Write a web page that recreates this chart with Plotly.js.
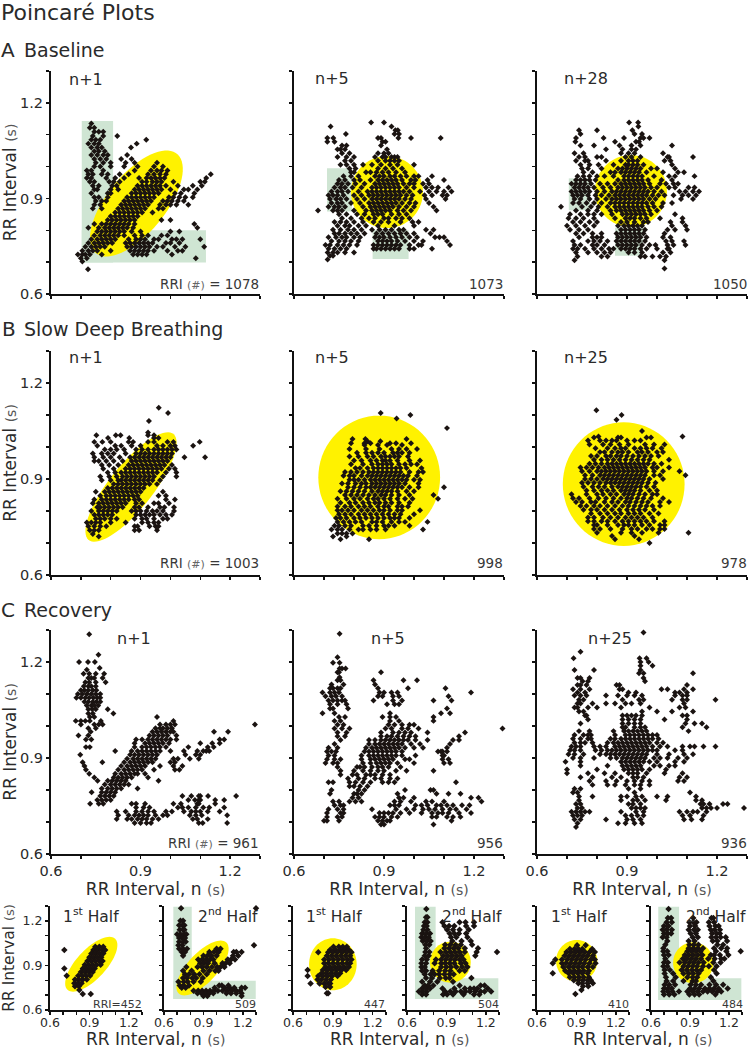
<!DOCTYPE html>
<html><head><meta charset="utf-8"><script src="https://cdn.plot.ly/plotly-3.0.1.min.js"></script>
<style>html,body{margin:0;padding:0;background:#fff}#c{width:748px;height:1050px}</style></head><body><div id="c"></div>
<script>
// Values, in ms. Each row: [RR(n+k), RR(n), RR(n), ...]
const a1=[[1135,735],[1122,730,745],[1109,745,760,775],[1096,740,775,822],[1084,735,750,765,919],[1072,725,745,760,887],[1060,735,755,770,868],[1048,745,760,780],[1036,735,755,775,790,855],[1024,745,765,785,835,870],[1012,750,775,800,850,880,955],[1000,745,765,800,845,890,945,975],[988,720,735,775,880,935,955,970,990],[976,725,740,770,790,830,860,925,945,965,985,1135],[964,720,735,785,815,845,895,920,935,950,965,980,1120],[952,730,745,795,810,830,905,920,940,955,970,1010,1100,1115],[940,740,760,805,820,890,905,920,935,950,965,985,1025,1075,1105],[928,745,755,800,825,880,895,910,925,940,955,970,1000,1045,1060,1090],[916,735,790,800,870,885,900,915,930,945,960,1015,1035,1080],[904,745,760,790,855,870,885,900,915,930,945,995,1010,1030,1050,1075],[892,750,770,785,845,860,875,890,905,920,935,975,990,1005,1025,1045],[880,745,765,835,850,865,880,895,910,925,965,985,1000,1020,1060],[868,740,770,825,840,855,870,885,900,915,960,975],[856,815,830,845,860,875,890,905,940],[844,800,815,830,845,860,875,890],[832,790,805,820,835,850,865,880,970,1000],[820,745,770,785,800,815,830,845,860,880,1080],[808,725,760,780,795,810,825,840,855,875,1090],[796,755,770,785,800,815,830,845,870,900,1000,1030],[784,745,765,780,795,810,825,845,880,905,925,970,990],[772,735,755,770,785,800,815,860,885,900,915,945,960,1005,1020,1040,1100],[760,725,745,760,775,790,805,850,865,880,895,910,925,940,985,1000,1030],[748,715,735,750,765,780,855,870,885,900,915,930,955,975,1015,1050,1113],[736,705,725,740,755,800,865,880,895,910,925,945,990,1025,1040],[724,690,705,715,730,770,875,890,905,920,1005],[712,700,720,1085],[702,705],[678,724]];
const a2=[[1138,857,900],[1126,722,925],[1114,938,946],[1102,773,935,950],[1090,731,711,880,890,948,990,1089],[1078,711,735,895,905],[1066,760,775,890],[1054,745,755,770,910],[1042,760,785,880,900,915],[1030,745,775,800,870,895,905,925,935,945],[1018,770,790,880,905,920,935,950],[1006,755,775,800,830,860,890,920,945,1000],[994,785,805,880,905,930,960],[982,790,800,840,855,875,895,915,940,970],[970,765,790,815,870,885,900,920,935,955,975,1000,1015,1060],[958,750,770,800,820,855,880,895,910,925,940,960,990,1005,1045,1100],[946,745,760,780,805,835,870,885,900,915,930,945,965,985,1000,1030,1050],[934,735,755,770,795,825,860,875,890,905,920,935,950,975,1000,1040,1060,1080,1115],[922,725,745,760,780,815,845,860,875,890,905,920,935,950,965,985,1020,1050,1075,1100,1125],[910,715,730,745,765,800,825,850,865,880,895,910,925,940,955,975,995,1035,1060,1095,1110],[898,720,740,755,775,810,835,860,875,890,905,920,935,950,970,990,1040,1105],[886,725,745,760,790,820,850,865,880,895,910,925,940,960,985,1005,1050],[874,715,735,750,770,830,855,870,885,900,915,930,950,975,1000,1065],[862,680,730,745,760,800,840,860,875,890,905,920,945,965,990,1075],[850,750,775,810,835,865,880,895,925,950,975],[838,760,790,825,850,870,900,915,940,960,985],[826,735,755,775,800,830,865,890,915,955,995,1015],[814,745,770,785,815,840,880,935,1000],[802,730,755,780,800,825,860,885,905,925,950,965,1040,1065],[790,735,750,770,790,810,835,875,895,915,935,955,975,1000,1055],[778,715,740,760,775,800,820,870,885,900,920,940,960,985,1010,1070,1085,1100],[766,725,750,770,790,815,880,895,910,925,945,970,1000,1030,1110],[754,705,720,745,765,785,810,865,880,895,910,925,940,955,985,1015,1025,1120],[742,715,735,755,775,865,875,890,905,920,935,950,985,1000,1060],[730,712,730,745,770,800],[720,720,730],[708,712]];
const a3=[[1138,907,937],[1126,938],[1114,740,800,918],[1102,745,925,950],[1090,730,822,890,945,955,975],[1078,728,860,930,940],[1066,745,790,875,915,945,1050],[1054,830,885,915,930],[1042,725,755,880,905,925,1020],[1030,740,760,800,815,895,915,945,1035,1040,1120],[1018,730,760,770,830,880,905,920,935,1025,1045],[1006,745,775,805,855,895,905,920,935,955,1050],[994,750,770,815,870,885,900,915,930,945,980,1000,1060],[982,755,785,845,860,880,895,910,925,940,965,1020,1070,1090],[970,735,755,775,800,825,855,890,905,920,935,950,990,1040,1060,1125],[958,730,745,760,775,795,870,890,905,920,935,950,970,1015,1050],[946,715,730,745,760,780,810,835,860,880,895,910,925,940,955,975,1010,1030,1055,1070],[934,725,740,755,770,790,820,845,870,885,900,915,930,945,960,980,1000,1040,1060,1105,1125],[922,715,730,745,760,775,800,825,850,865,880,895,910,925,940,955,970,990,1015,1075,1095,1120,1140],[910,720,735,750,770,795,815,840,860,875,890,905,920,935,950,965,985,1005,1025,1055,1085,1105,1130],[898,725,745,775,800,830,850,865,880,895,910,925,940,955,975,995,1080,1120],[886,720,740,765,790,815,845,860,875,890,905,920,935,950,965,985,1020,1050],[874,680,750,780,805,835,860,875,890,905,920,935,950,970,990,1015],[862,730,770,800,845,865,880,895,910,925,940,955,975,1000],[850,710,745,770,790,815,850,885,900,915,930,945,960,980,1060],[838,705,730,755,790,860,895,910,925,945,965,1010,1085],[826,720,745,775,800,880,900,925,955,970,1045,1085],[814,700,730,760,790,870,890,905,920,935,950,1050,1095],[802,710,740,770,880,895,910,925,940,960,1035,1060,1100],[790,730,755,785,815,865,880,895,910,925,940,955,1025],[778,740,785,800,815,870,885,900,915,930,945,965,1020,1045],[766,720,770,790,810,835,865,880,895,910,925,940,960,1030,1050,1090],[754,725,745,785,800,825,870,885,900,915,930,950,975,995,1035,1055,1095],[742,720,735,760,790,815,840,855,880,895,910,925,945,965,1000,1035,1040],[730,730,770,800,825,845,905,925,950,1020,1045],[718,735,815,835,945,960,985,1010,1030],[706,725,1025],[680,1025]];
const b1=[[1123,961],[1106,992],[1081,928],[1045,925],[1037,752,817,833,925,945],[1028,791,862,945,960],[1016,745,772,800,860,875,925,945,990,1010,1098],[1004,755,815,835,870,900,955,975,1000,1015,1076],[992,780,800,820,845,885,905,925,945,960,975,990,1005,1020],[980,740,770,790,810,850,885,900,915,930,945,960,975,990,1005],[968,745,775,800,830,865,880,895,910,925,940,955,970,985,1000,1047,1116],[956,745,760,785,810,840,870,885,900,915,930,945,960,975,990],[944,770,795,825,860,875,890,905,920,935,950,965,980,1005],[932,775,810,850,865,880,895,910,925,940,955,970,995,1015],[920,790,815,835,850,865,880,895,910,925,940,955,985,1020],[908,765,795,820,840,855,870,885,900,915,930,945,975,1020],[896,770,800,825,835,850,865,880,895,910,925,940,965],[884,810,825,840,855,870,885,900,915,930,955],[872,790,805,820,835,850,865,880,895,910],[860,750,780,795,810,825,840,855,870,885,900,975],[848,765,785,800,815,830,845,860,875,890,960,985],[836,745,770,785,800,815,830,845,860,880,895,985,1015],[824,740,760,775,790,805,820,835,850,885,905,945,960,995],[812,755,765,780,795,810,825,840,880,895,925,965,980,1012],[800,735,760,775,790,805,820,870,885,900,920,940,955,975,1012],[788,745,760,775,790,805,885,900,915,930,945,965,985,1005],[776,750,765,780,800,820,880,905,920,945,975,990],[764,720,735,750,765,800,850,905,925,945,960],[752,725,745,765,785,880,890,930,950,960],[740,730,745,760,880,895,955],[728,740],[720,760]];
const b2=[[1106,889],[1100,988],[1089,942],[1059,1110],[1025,795,838,975],[1018,845,888],[1012,790,835,855,920,940,990],[1006,835,880,910,960],[994,785,840,885,925,950,975,1010],[982,810,840,860,880,900,930,945,960,985],[970,785,815,845,865,890,905,920,935,950,980],[958,800,825,855,875,895,905,920,945,985,1020],[946,790,830,860,880,895,910,925,950,970,990,1010],[934,805,820,845,865,880,895,910,925,940,955,975,1025],[922,770,790,810,830,850,865,880,895,910,925,940,955,985,1015,1030],[910,765,785,800,825,845,860,875,890,905,920,935,950,965,980,1010],[898,785,800,815,835,855,870,885,900,915,930,945,960,975,1000,1020],[886,760,780,805,825,840,860,875,890,905,920,935,950,970,1015],[874,780,800,820,840,855,870,885,900,915,930,945,960,985,1015,1100],[862,755,775,795,815,835,860,880,895,910,925,945,975,1000],[850,770,790,810,830,850,870,890,905,925,950,985,1065],[838,745,775,800,820,845,865,880,900,920,945,970,995,1080],[826,755,785,805,830,850,870,885,905,925,950,985],[814,745,770,790,815,835,855,880,900,915,945,960,980],[802,745,760,780,800,825,845,865,885,900,920,945,960,1020],[790,750,770,790,815,835,855,875,895,915,935,955,1000],[778,740,755,775,800,820,840,860,880,900,920,935,950,985],[766,745,765,785,805,825,860,875,895,925,950,970,1045],[754,735,750,770,790,830,850,875,900,915,935,985],[742,725,745,760,785,815,830,855,875,905,1030],[730,745,760,775,795],[720,730,775],[712,755,850]];
const b3=[[1115,798],[1100,882],[1085,865],[1050,950],[1033,1085,805],[1030,790,870,880,965,980],[1020,770,810,830,850,865,900,925,945],[1008,775,820,845,875,905,960,990,1025],[996,795,835,860,880,895,925,945,965,985,1015],[984,810,825,850,870,885,905,935,950,970,1000,1020],[972,780,800,830,845,865,880,900,920,940,960,980,1005],[960,790,815,835,855,875,895,915,935,955,975,1040],[948,775,795,815,835,850,865,880,895,910,925,940,955,970,990,1015],[936,745,765,785,805,825,840,855,870,885,900,915,930,945,960,985,1000,1040],[924,750,775,800,815,830,845,860,875,890,905,920,935,950,965,990,1075,1020],[912,760,785,810,825,840,855,870,885,900,915,930,945,960,990,1010,1095],[900,760,780,800,820,835,850,865,880,895,910,925,940,955,975,1020],[888,750,770,790,810,830,845,860,875,890,905,920,935,950,970,995],[876,755,785,805,825,850,870,885,900,915,930,945,965,990],[864,765,790,815,835,855,880,895,910,925,945,975,1000],[852,715,765,800,820,845,865,890,905,920,940,960,985,1000],[840,720,740,775,805,830,855,880,900,915,935,955,980,1020],[828,730,750,780,795,825,850,870,895,910,930,950,970,1010,1040],[816,745,765,790,810,835,860,885,905,925,945,965,985,1010],[804,755,780,800,825,850,875,900,920,940,960,990],[792,780,810,835,860,880,905,925,945,975,1005],[780,770,790,820,845,870,895,915,935,955,985],[768,770,790,815,835,860,885,905,925,945,965,990,1025],[756,790,800,835,870,890,905,925,950,975,1010,1025],[744,790,810,845,885,915,935,965,985,1010,1025],[732,800,880,915,950,1005,1105],[722,850,925],[712,860,940],[700,975]];
const c1=[[1287,728],[1223,759],[1200,694,724,747],[1181,763],[1176,720],[1163,709,728,750,778],[1150,725,735,745,773],[1137,715,728,750,783],[1124,710,725,735,750],[1112,700,712,725,740,752],[1100,690,705,720,735,750,765],[1088,685,700,715,728,742,755,765],[1076,712,725,740,752,765],[1064,720,735,745,758],[1052,725,738,750,790],[1039,725,740,809],[1028,730,745,955],[1016,683,700,715,730,767,1010],[1005,700,745,760,773,965,985,1000,1015,1283],[993,725,750,950,965,975,990,1005],[982,733,940,955,970,985,1000,1010,1146,1193],[970,692,725,930,945,960,975,990,1020],[958,717,735,885,905,925,940,955,970,985,1000,1020,1165,1180],[946,880,915,930,945,960,975,995,1100,1140,1165],[934,717,730,880,905,920,935,950,965,985,1060,1125,1145],[922,815,870,890,905,920,935,950,965,1000,1045,1090,1110,1120,1130],[910,698,865,880,895,910,925,940,955,1050,1085,1100],[898,855,875,890,905,920,935,950,1010,1025,1065,1095],[887,772,706,845,865,880,895,910,925,940,1000,1015],[875,712,835,855,870,885,900,915,965,1010,1040],[863,717,825,845,860,875,890,905,945,1015,1030],[851,728,815,835,850,865,880,890,915,],[839,745,810,825,840,855,870,925],[829,756,790,805,820,835,850,960],[817,780,800,815,830,845,860],[805,770,790,805,820,835,890],[793,736,770,785,800,815],[781,765,780,795,810,1040,1070,1100,1126,1095,1220],[769,755,770,785,800,1060,1082,1100,1095,1150,1180],[757,731,760,775,870,885,915,1010,1035,1090,1095,1150],[745,885,910,930,1025,1040,1060,1085,1110,1130,1180],[733,820,850,885,905,925,945,985,1005,1045,1070,1085,1100,1125,1165],[721,825,860,880,895,910,925,950,975,990,1065,1085,1105,1190],[709,820,855,870,890,905,920,940,960,1075,1090,1125],[697,880,900,920,935,1095,1108,1190]];
const c2=[[1288,752],[1215,745],[1198,730,752],[1180,752,760,772],[1168,745,750,890],[1155,690?0:752].filter?[]:[],[1152,752],[1143,755,745,865,965,1010],[1130,725,765,870],[1118,720,730,745,755,880,980,1105],[1105,695,720,735,750,885,900,925,945,1190],[1093,705,725,740,760,880,895,930,950,1115],[1080,715,730,745,760,770,865,930,960,1125,1065],[1068,720,745,775,935,950,910],[1055,720,730,780,1110],[1040,695,735,920,1090,1120],[1028,750,770,895,920,940,1065],[1016,735,755,920,950,1065],[1004,745,765,915,935,960,985,1000],[992,735,760,785,905,925,960,980,1015,1295],[980,745,775,890,930,950,970,990,1045,1170],[968,745,770,890,910,925,945,965,985,1005,1150],[956,755,850,870,890,905,920,935,950,965,980,1005,1045,1130,1150],[944,735,850,870,885,900,915,930,945,960,990,1020,1120],[932,715,745,840,860,875,890,905,920,935,950,970,1000,1030,1110],[920,710,725,740,835,850,865,880,895,910,925,940,960,1080,1090,1095,1110],[908,715,735,825,850,865,880,895,910,925,940,960,1005,1095,1100],[896,710,735,755,825,855,870,885,900,915,930,970,985,1095,1115],[884,705,730,745,830,855,875,890,905,920,945,1000,1120,1100],[872,745,810,820,835,860,880,895,915,955],[860,755,800,830,855,880,900,940,975,1065],[848,755,795,810,840,855,870,895,920],[836,780,815,835,870,890,920,945],[824,715,730,785,805,830,855,895,915,935,1140],[812,785,800,820,845],[800,725,815,835,970,1055,1065],[788,720,800,810,825,945,1075,1115,1155],[776,795,815,950,965,1000,1215,1190],[764,730,750,785,805,825,935,955,990,1040,1060,1100,1225],[752,735,755,765,920,935,950,1005,1025,1045,1075,1090,1110,1130,1160,1185],[740,715,745,765,860,940,975,1000,1030,1050,1070,1095,1120,1140,1175],[728,710,755,765,885,900,915,930,955,985,1025,1060,1080,1095,1115,1150,1190],[716,710,745,760,870,885,900,925,945,1060,1075,1110,1130,1155],[704,700,710,750,880,895,910,920,1125],[692,890,900,1065],[684,]];
const c3=[[1292,955],[1232,745],[1212,722,942,965],[1200,945,972],[1188,945,985],[1175,725,790,945],[1165,940,955,1120],[1150,735,745,775,955],[1140,752,770,960],[1128,735,745,765,865,875,1100],[1115,720,745,775,875,885,1015,1035,1090,1120],[1105,735,760,905,930,1100,1060,1075],[1095,725,745,765,830,870,900,925,950,1060,1085,1100],[1082,740,755,885,940,955,1050,1085,1100,1195],[1070,785,735,745,830,860,895,915,945,1090],[1058,725,735,770,800,880,975,1075,1095],[1045,740,755,950,1000,1050,1120],[1033,760,765,885,900,915,930,950,1085,1100],[1020,770,885,905,925,945,1025,1100],[1008,745,885,905,925,945,1095,1125,1150],[996,885,895,925,945,960,1085,1165],[984,740,775,855,890,905,920,935,950,965,1105],[972,725,755,770,780,860,895,910,925,940,955,970,985,1000],[960,720,745,770,780,845,860,880,895,910,925,940,955,970,985,1005],[948,725,745,760,785,835,855,870,885,900,915,930,945,960,975,1000,1020],[936,715,730,745,790,810,830,860,875,890,905,920,935,950,965,985,1010,1035,1085,1110,1125,1155,1195],[924,710,725,745,795,815,835,850,865,880,895,910,925,940,955,970,985,1000,1060,1085],[912,705,725,755,810,830,845,860,875,890,905,920,935,950,965,1000,1040,1090,1120],[900,720,745,790,845,865,885,900,915,930,945,960,990,1010,1035,1070,1100],[888,695,745,880,895,910,925,940,955,975,1000,1060,1090],[876,745,835,885,900,915,930,945,990,1010,1040,1060],[864,700,800,890,905,920,935,950,975,1030],[852,700,770,825,860,905,920,935,965,1025,1085],[840,745,785,850,880,920,935,955,1075,1100],[828,775,830,865,900,925,950,975,1070,1090],[816,785,835,860,895,925,945,975],[804,725,745,905,945],[792,720,735,925,1110],[780,740,785,880,900,930,950,1035,1130,1000],[768,740,880,920,935,960,1030,1130,1150],[756,730,745,905,920,945,1145,1155,1175,1220,1235],[744,735,750,915,930,945,960,1150,1165,1180,1200,1290],[732,715,730,745,760,775,880,930,955,1075,1100,1120,1135,1165],[720,720,735,750,895,915,935,955,1085,1110,1155],[708,725,745,830,900,920,945,1090,1115,1150],[696,735,870,895,925,950],[684,730]];
const s1=[[1026,945,975,1005],[1004,709,930,960,995,1020],[980,915,945,975,1005],[955,900,930,960,990],[930,885,915,945,975,1000],[905,865,895,925,955,985],[880,709,850,880,910,940],[855,835,865,895,925],[830,727,815,845,875,905],[805,790,820,850,880],[780,785,810,840],[760,790,820],[735,823],[708,849,910]];
const s2=[[1285,730,1300],[1200,725,745],[1170,715,740,755],[1140,720,745,755],[1110,700,725,750,770],[1085,715,740,760],[1060,715,745,765],[1035,710,740,1285],[1012,715,745,775,1000,1030],[990,735,760,945,980,1015,1130,1150,1190],[965,745,900,930,960,1000,1125,1165],[940,860,890,920,950,975,1085,1110,1140],[915,875,905,935,985,1045,1070,1100],[890,770,855,890,925,965,1005,1030,1060],[865,745,810,900,945,990,1015],[840,760,790,830,870,925],[815,745,775,815,845,895],[790,710,750,780,825,880],[765,720,750,790,1020,1040,1090],[750,735,765,985,1060,1100,1135,1190,1217],[730,825,860,890,920,950,980,1010,1045,1080,1115,1150,1180],[712,855,885,915,945,975,1075,1110,1150,1190],[695,900,930,1190]];
const s3=[[1025,905,945,975,1005],[1005,880,920,955,990,1020],[988,790,865,900,935,970,1005,1040],[965,855,890,925,960,995,1030],[940,835,870,905,940,975,1010,1040],[915,835,865,900,935,970,1005,1030],[890,845,880,915,950,985,1020],[869,710,825,860,895,930,965,1000],[848,815,850,885,920,955],[829,710,790,825,860,895,935],[805,785,815,850,885],[779,732,800,835,865,880],[755,845,880],[712,855,865]];
const s4=[[1280,747],[1225,745,755],[1190,735,755,870,1000,1045,1110],[1165,730,750,885,920,960,1050,1110],[1140,725,755,905,950,1000,1070],[1115,715,745,775,925,960,995,1050],[1090,710,735,765,935,975,1060],[1065,720,750,780,945,1015,1085],[1040,740,770,890,930,970,1010,1095],[1015,745,885,920,955,990,1040,1140],[990,740,770,855,895,930,965,1000,1040,1130,1285],[965,735,765,875,910,945,980,1015,1120],[940,715,750,820,860,895,930,965,1000,1030],[915,710,745,810,860,890,925,960,1010,1045],[890,710,735,860,900,935,975,1020,1060],[865,715,745,795,845,890,930,1000,1040],[840,735,780,810,845,885,925,955],[815,745,790,850,895,925,1090],[790,715,775,830,950],[765,735,760,800,1000,1160,1190],[745,715,745,775,870,960,1040,1080,1110,1135,1215],[725,690,720,750,890,930,970,1010,1045,1080,1120,1160,1190,1240],[705,715,745,875,905,950,1030,1110,1150]];
const s5=[[1035,905,970],[1010,850,885,915,945,1020],[990,825,860,895,930,965,1000,1040],[965,810,845,880,915,950,985,1025],[940,740,790,830,865,900,935,970,1010,1040],[915,720,790,820,855,890,925,960,1000,1045],[890,800,840,875,910,945,985,1025],[865,815,850,885,920,955,995],[847,720,840,875,910,945,985],[820,850,885,920,955,995],[800,880,915,950,985,1010],[780,915,945,985,1025],[760,950,990],[735,938],[708,892]];
const s6=[[1280,735],[1220,730,755,925,1065,1080],[1190,720,760,895,925,950,1045,1085],[1165,700,735,900,940,1050,1095,1120],[1140,690,720,760,890,930,960,1060,1090,1130],[1115,700,730,755,905,945,1070,1105,1130],[1090,690,720,920,960,1065,1100,1135,1175],[1065,725,890,935,1075,1110,1185],[1040,710,895,930,965,1110,1155],[1015,695,890,925,960,1000,1085,1140,1185],[995,695,725,880,910,945,980,1100,1180,1290],[970,700,735,860,890,925,960,995,1060,1085,1130,1195],[945,710,845,875,910,945,985,1040,1090,1140,1165],[920,700,730,820,860,895,930,965,1005,1080,1135],[895,695,725,850,885,920,955,1000,1045,1105],[870,705,745,835,875,915,950,985,1085],[845,705,770,850,890,925,965,1105],[820,715,790,880,920,955,1060],[795,720,770,850,920,945,1080],[770,705,740,785,905,945,985,1050,1100,1155],[745,700,730,760,900,935,970,1015,1050,1085,1120,1190],[725,695,730,765,815,880,920,960,1000,1035,1070,1110,1140],[705,700,740,780,895,935,970,1095]];
const FONT='"DejaVu Sans"',INK='#2a2a2a';
const W=748,H=1050;
const BIG_ROWS=[[71,294],[351,575],[630,854]];
const BIG_COLS=[[51,260],[294,504],[537,747]];
const SMALL_COLS=[[50,142],[164,256],[293,386],[407,499],[537,629],[651,742]];
const SMALL_ROW=[906,1010];
const majorTicks=[.6,.9,1.2];
const majorText=['0.6','0.9','1.2'];
const minorTicks=[.7,.8,1,1.1,1.3];
const panels=[
 {d:a1,col:BIG_COLS[0],row:BIG_ROWS[0],ylab:1,e:[.886,.884,.207,.095,48],g:[[.703,.808,.699,1.143],[.703,1.119,.699,.80]]},
 {d:a2,col:BIG_COLS[1],row:BIG_ROWS[0],e:[.91,.92,.12,.113,0],g:[[.71,.793,.859,.995],[.862,.982,.71,.80]]},
 {d:a3,col:BIG_COLS[2],row:BIG_ROWS[0],e:[.913,.923,.12,.113,0],g:[[.706,.777,.863,.963],[.86,.953,.72,.808]]},
 {d:b1,col:BIG_COLS[0],row:BIG_ROWS[1],ylab:1,e:[.868,.875,.218,.071,49]},
 {d:b2,col:BIG_COLS[1],row:BIG_ROWS[1],e:[.884,.905,.203,.193,0]},
 {d:b3,col:BIG_COLS[2],row:BIG_ROWS[1],e:[.889,.884,.203,.193,0]},
 {d:c1,col:BIG_COLS[0],row:BIG_ROWS[2],ylab:1,xlab:1,xt:1},
 {d:c2,col:BIG_COLS[1],row:BIG_ROWS[2],xlab:1,xt:1},
 {d:c3,col:BIG_COLS[2],row:BIG_ROWS[2],xlab:1,xt:1},
 {d:s1,col:SMALL_COLS[0],row:SMALL_ROW,ylab:1,xlab:1,small:1,e:[.914,.908,.25,.105,42]},
 {d:s2,col:SMALL_COLS[1],row:SMALL_ROW,xlab:1,small:1,e:[.893,.883,.25,.105,42],g:[[.671,.811,.674,1.295],[.671,1.298,.674,.797]]},
 {d:s3,col:SMALL_COLS[2],row:SMALL_ROW,xlab:1,small:1,e:[.9,.908,.179,.175,0]},
 {d:s4,col:SMALL_COLS[3],row:SMALL_ROW,xlab:1,small:1,e:[.93,.922,.155,.138,0],g:[[.661,.818,.674,1.295],[.661,1.295,.674,.813]]},
 {d:s5,col:SMALL_COLS[4],row:SMALL_ROW,xlab:1,small:1,e:[.902,.931,.157,.14,0]},
 {d:s6,col:SMALL_COLS[5],row:SMALL_ROW,xlab:1,small:1,e:[.925,.918,.155,.138,0],g:[[.656,.816,.667,1.295],[.656,1.295,.667,.813]]}
];
function ell(e){const [cx,cy,a,b,deg]=e,r=deg*Math.PI/180;let p='';
 for(let i=0;i<72;i++){const t=i/72*2*Math.PI,u=a*Math.cos(t),v=b*Math.sin(t);
  p+=(i?'L':'M')+(cx+u*Math.cos(r)-v*Math.sin(r)).toFixed(4)+' '+(cy+u*Math.sin(r)+v*Math.cos(r)).toFixed(4);}
 return p+'Z';}
const layout={width:W,height:H,margin:{l:0,r:0,t:0,b:0},paper_bgcolor:'#fff',plot_bgcolor:'rgba(0,0,0,0)',showlegend:false,font:{family:FONT,color:INK},shapes:[],annotations:[]};
const traces=[];
panels.forEach((p,i)=>{const n=i+1,xa='xaxis'+n,ya='yaxis'+n,xr='x'+n,yr='y'+n;
 const xs=[],ys=[];
 p.d.forEach(row=>{for(let k=1;k<row.length;k++){xs.push(row[k]/1000);ys.push(row[0]/1000);}});
 traces.push({type:'scatter',mode:'markers',x:xs,y:ys,xaxis:xr,yaxis:yr,cliponaxis:false,hoverinfo:'skip',marker:{symbol:'diamond',size:p.small?5:4.6,color:'#1a1311',line:{width:0}}});
 const tf=p.small?12.5:14.5;
 const base={range:[.6,1.3],showgrid:false,zeroline:false,showline:true,linecolor:'#111',linewidth:2,ticks:'outside',ticklen:3,tickwidth:1.5,tickcolor:'#111',tickmode:'array',tickvals:majorTicks,ticktext:majorText,tickangle:0,tickfont:{family:FONT,size:tf,color:INK},fixedrange:true,
  minor:{tickmode:'array',tickvals:minorTicks,ticks:'outside',ticklen:3,tickwidth:1.5,tickcolor:'#111',showgrid:false}};
 layout[xa]=Object.assign({},base,{domain:[p.col[0]/W,p.col[1]/W],anchor:yr,showticklabels:!!p.xlab});
 if(p.small) layout[xa].ticklabelstandoff=-3;
 layout[ya]=Object.assign({},base,{domain:[1-p.row[1]/H,1-p.row[0]/H],anchor:xr,showticklabels:!!p.ylab});
 if(p.ylab) layout[ya].title={text:'RR Interval <span style="font-size:'+(p.small?13:14)+'px;fill:#555">(s)</span>',font:{family:FONT,size:p.small?15.5:17,color:INK},standoff:p.small?4:5};
 if(p.xt) layout[xa].title={text:'RR Interval, n <span style="font-size:14px;fill:#555">(s)</span>',font:{family:FONT,size:17,color:INK},standoff:3};
 (p.g||[]).forEach(g=>layout.shapes.push({type:'rect',xref:xr,yref:yr,x0:g[0],x1:g[1],y0:g[2],y1:g[3],fillcolor:'#cfe5d3',line:{width:0},layer:'below'}));
 if(p.e) layout.shapes.push({type:'path',xref:xr,yref:yr,path:ell(p.e),fillcolor:'#fff200',line:{width:0},layer:'below'});
});
function txt(t,px,py,size,anchor,color){layout.annotations.push({xref:'paper',yref:'paper',x:px/W,y:1-py/H,text:t,showarrow:false,xanchor:anchor||'left',yanchor:'middle',font:{family:FONT,size:size,color:color||INK},borderpad:0,borderwidth:0,align:anchor||'left'});}
txt('Poincaré Plots',1,12,22);
txt('A',1,50,20);txt('Baseline',24,50,19);
txt('B',2,329,20);txt('Slow Deep Breathing',24,329,19);
txt('C',1,610,20);txt('Recovery',24,610,19);
[['n+1',69,80],['n+5',315,78],['n+28',564,78],['n+1',69,358],['n+5',315,358],['n+25',564,358],['n+1',117,638],['n+5',371,638],['n+25',588,638]].forEach(a=>txt(a[0],a[1],a[2],16));
const RRI=n=>'RRI <span style="font-size:11px;fill:#666">(#)</span> = '+n;
[[RRI(1078),259,284],['1073',503,284],['1050',747,284],[RRI(1003),259,563],['998',503,563],['978',747,563],[RRI(961),259,843],['956',503,843],['936',747,843]].forEach(a=>txt(a[0],a[1],a[2],13.5,'right','#383838'));
[['RRI=452',142,1004],['509',256,1004],['447',385,1004],['504',499,1004],['410',629,1004],['484',743,1004]].forEach(a=>txt(a[0],a[1],a[2],11,'right','#383838'));
[['1<sup>st</sup> Half',63],['2<sup>nd</sup> Half',198],['1<sup>st</sup> Half',306],['2<sup>nd</sup> Half',442],['1<sup>st</sup> Half',551],['2<sup>nd</sup> Half',686]].forEach(a=>txt(a[0],a[1],915,15.5));
[155,399,642].forEach(c=>txt('RR Interval, n <span style="font-size:14px;fill:#555">(s)</span>',c,1039,17,'center'));
Plotly.newPlot('c',traces,layout,{displayModeBar:false,staticPlot:true});
</script></body></html>
